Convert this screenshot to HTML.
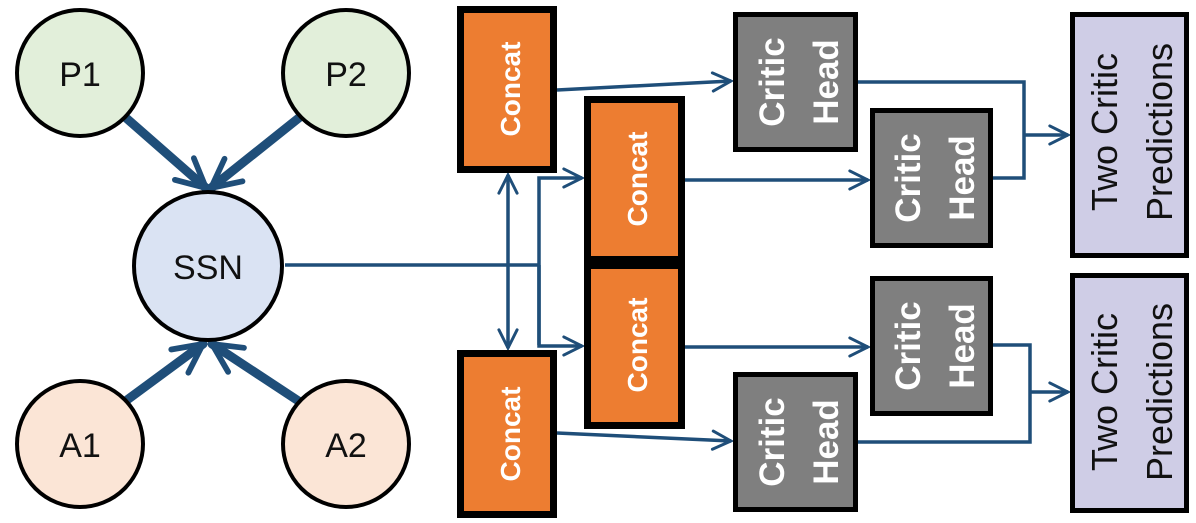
<!DOCTYPE html>
<html><head><style>html,body{margin:0;padding:0;background:#fff}</style></head><body>
<svg width="1196" height="518" viewBox="0 0 1196 518" xmlns="http://www.w3.org/2000/svg" font-family="Liberation Sans, sans-serif">
<defs>
<marker id="ah" viewBox="0 0 10 10" refX="9" refY="5" markerWidth="6.5" markerHeight="6.5" orient="auto-start-reverse" markerUnits="strokeWidth">
<path d="M1,1 L9,5 L1,9" fill="none" stroke="#1f4e79" stroke-width="1.3" stroke-linecap="round"/></marker>
<marker id="ahb" viewBox="0 0 10 10" refX="9" refY="5" markerWidth="4" markerHeight="4" orient="auto" markerUnits="strokeWidth">
<path d="M1,1 L9,5 L1,9" fill="none" stroke="#1f4e79" stroke-width="1.6" stroke-linecap="round"/></marker>
</defs>
<g stroke="#1f4e79" stroke-width="9" fill="none" stroke-linecap="round">
<line x1="125" y1="117" x2="206" y2="188" marker-end="url(#ahb)"/>
<line x1="300" y1="117" x2="211" y2="188" marker-end="url(#ahb)"/>
<line x1="127" y1="400" x2="203" y2="344" marker-end="url(#ahb)"/>
<line x1="300" y1="402" x2="212" y2="344" marker-end="url(#ahb)"/>
</g>
<g stroke="#1f4e79" stroke-width="3.5" fill="none">
<line x1="285" y1="265" x2="540" y2="265"/>
<polyline points="539,345 539,178 582,178" marker-end="url(#ah)"/>
<polyline points="539,265 539,346 582,346" marker-end="url(#ah)"/>
<line x1="508" y1="175" x2="508" y2="348" marker-start="url(#ah)" marker-end="url(#ah)"/>
<line x1="557" y1="90" x2="731" y2="81" marker-end="url(#ah)"/>
<line x1="685" y1="180" x2="868" y2="180" marker-end="url(#ah)"/>
<line x1="685" y1="347" x2="868" y2="347" marker-end="url(#ah)"/>
<line x1="557" y1="433" x2="731" y2="441" marker-end="url(#ah)"/>
<polyline points="858,82 1024,82 1024,178 993,178"/>
<line x1="1024" y1="135" x2="1068" y2="135" marker-end="url(#ah)"/>
<polyline points="993,345 1030,345 1030,442 858,442"/>
<line x1="1030" y1="392" x2="1068" y2="392" marker-end="url(#ah)"/>
</g>
<g stroke="#000" stroke-width="4">
<circle cx="80" cy="73" r="63" fill="#e2efda"/>
<circle cx="346" cy="73" r="63" fill="#e2efda"/>
<circle cx="208" cy="266" r="74" fill="#dae3f3"/>
<circle cx="80" cy="444" r="63" fill="#fbe5d6"/>
<circle cx="346" cy="444" r="63" fill="#fbe5d6"/>
</g>
<g font-size="34" text-anchor="middle" fill="#111">
<text x="80" y="86">P1</text><text x="346" y="86">P2</text>
<text x="208" y="279">SSN</text>
<text x="80" y="457">A1</text><text x="346" y="457">A2</text>
</g>
<g stroke="#000" stroke-width="7" fill="#ed7d31">
<rect x="460.5" y="9.5" width="93" height="160"/>
<rect x="587.5" y="99.5" width="94" height="160"/>
<rect x="587.5" y="265.5" width="94" height="160"/>
<rect x="460.5" y="353.5" width="93" height="161"/>
</g>
<g fill="#fff" font-size="28" font-weight="bold" text-anchor="middle">
<text transform="translate(510,89) rotate(-90)" y="10">Concat</text>
<text transform="translate(637,179) rotate(-90)" y="10">Concat</text>
<text transform="translate(637,345) rotate(-90)" y="10">Concat</text>
<text transform="translate(510,434) rotate(-90)" y="10">Concat</text>
</g>
<g stroke="#000" stroke-width="5" fill="#7f7f7f">
<rect x="735.5" y="14.5" width="120" height="135"/>
<rect x="872.5" y="110.5" width="118" height="135"/>
<rect x="872.5" y="278.5" width="118" height="135"/>
<rect x="735.5" y="374.5" width="120" height="135"/>
</g>
<g fill="#fff" font-size="35" font-weight="bold" text-anchor="middle">
<text transform="translate(795,82) rotate(-90)"><tspan x="0" y="-11">Critic</tspan><tspan x="0" y="43">Head</tspan></text>
<text transform="translate(931,178) rotate(-90)"><tspan x="0" y="-11">Critic</tspan><tspan x="0" y="43">Head</tspan></text>
<text transform="translate(931,346) rotate(-90)"><tspan x="0" y="-11">Critic</tspan><tspan x="0" y="43">Head</tspan></text>
<text transform="translate(795,442) rotate(-90)"><tspan x="0" y="-11">Critic</tspan><tspan x="0" y="43">Head</tspan></text>
</g>
<g stroke="#000" stroke-width="5" fill="#cfcde6">
<rect x="1072.5" y="14.5" width="114" height="241"/>
<rect x="1072.5" y="275.5" width="114" height="235"/>
</g>
<g fill="#111" font-size="36" text-anchor="middle">
<text transform="translate(1129,132) rotate(-90)"><tspan x="0" y="-12">Two Critic</tspan><tspan x="0" y="43">Predictions</tspan></text>
<text transform="translate(1129,392) rotate(-90)"><tspan x="0" y="-12">Two Critic</tspan><tspan x="0" y="43">Predictions</tspan></text>
</g>
</svg>
</body></html>
